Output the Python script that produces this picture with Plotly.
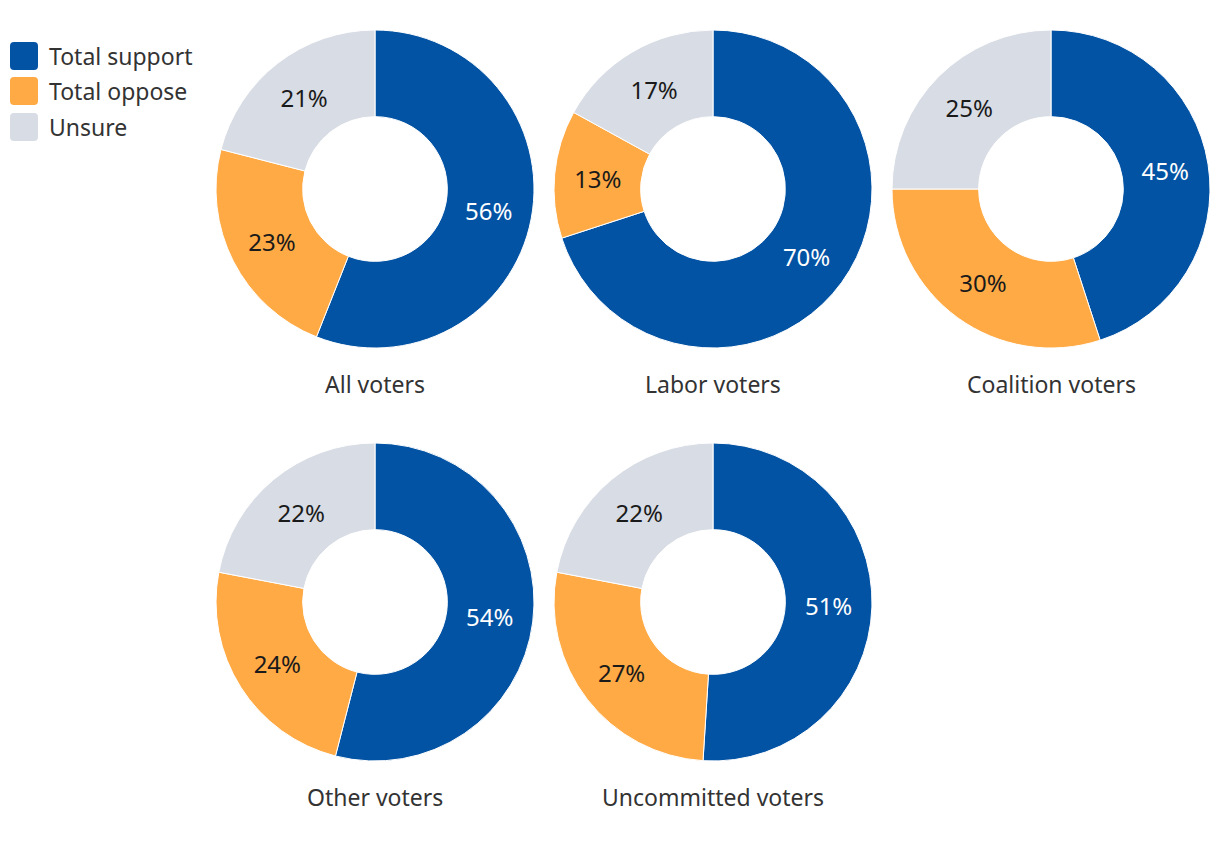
import plotly.graph_objects as go

W, H = 1220, 848
OFF = 8  # browser body margin

categories = ["Total support", "Total oppose", "Unsure"]
groups = ["All voters", "Labor voters", "Coalition voters", "Other voters", "Uncommitted voters"]
all_voters = [56, 23, 21]
labor_voters = [70, 13, 17]
coalition_voters = [45, 30, 25]
other_voters = [54, 24, 22]
uncommitted_voters = [51, 27, 22]
series = [all_voters, labor_voters, coalition_voters, other_voters, uncommitted_voters]

colors = ["#0353A4", "#FFAA45", "#D8DCE4"]
text_colors = ["#FFFFFF", "#1a1a1a", "#1a1a1a"]
FONT = "Noto Sans"


def px(x):
    return (x - OFF) / W


def py(y):
    return 1 - (y - OFF) / H


# pixel centres and radius of each donut (page coords)
centres = [(375, 189), (713, 189), (1051, 189), (375, 602), (713, 602)]
R = 159

fig = go.Figure()
for i, (name, vals) in enumerate(zip(groups, series)):
    cx, cy = centres[i]
    fig.add_trace(go.Pie(
        labels=categories,
        values=vals,
        sort=False,
        direction="clockwise",
        rotation=0,
        hole=0.455,
        marker=dict(colors=colors, line=dict(color="white", width=1)),
        texttemplate="%{value}%",
        textposition="inside",
        insidetextorientation="horizontal",
        textfont=dict(family=FONT, size=24, color=text_colors),
        domain=dict(x=[px(cx - R), px(cx + R)], y=[py(cy + R), py(cy - R)]),
        showlegend=False,
        hoverinfo="label+value",
    ))
    fig.add_annotation(
        x=px(cx), y=py(cy + 195), xref="paper", yref="paper",
        text=name, showarrow=False, xanchor="center", yanchor="middle",
        font=dict(family=FONT, size=23, color="#333333"),
    )


def rounded_rect(x0, y0, x1, y1, r):
    X0, X1 = px(x0), px(x1)
    Y0, Y1 = py(y0), py(y1)
    rx, ry = r / W, r / H
    return (f"M {X0+rx},{Y0} L {X1-rx},{Y0} Q {X1},{Y0} {X1},{Y0-ry} "
            f"L {X1},{Y1+ry} Q {X1},{Y1} {X1-rx},{Y1} L {X0+rx},{Y1} "
            f"Q {X0},{Y1} {X0},{Y1+ry} L {X0},{Y0-ry} Q {X0},{Y0} {X0+rx},{Y0} Z")


# custom legend (large rounded swatches)
legend_rows = [56, 91, 127]
for cat, col, ly in zip(categories, colors, legend_rows):
    fig.add_shape(type="path", xref="paper", yref="paper",
                  path=rounded_rect(10, ly - 14, 38, ly + 14, 4),
                  fillcolor=col, line=dict(width=0))
    fig.add_annotation(x=px(47), y=py(ly), xref="paper", yref="paper",
                       text=cat, showarrow=False, xanchor="left", yanchor="middle",
                       font=dict(family=FONT, size=23, color="#333333"))

fig.update_layout(
    width=W, height=H,
    margin=dict(l=0, r=0, t=0, b=0),
    paper_bgcolor="white",
    plot_bgcolor="white",
    showlegend=False,
    font=dict(family=FONT),
)

fig.write_html("out.html")
